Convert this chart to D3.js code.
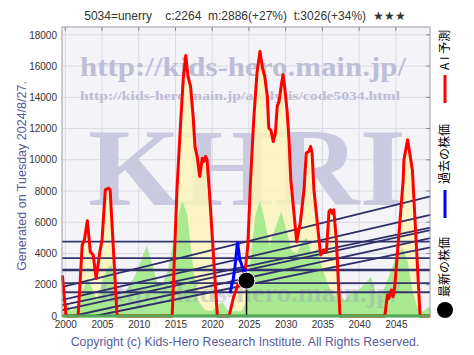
<!DOCTYPE html>
<html><head><meta charset="utf-8">
<script src="https://cdnjs.cloudflare.com/ajax/libs/d3/7.8.5/d3.min.js"></script>
<style>body{margin:0;background:#fff}svg{display:block}</style>
</head><body><svg id="c" width="474" height="355"></svg>
<script>
const title = "5034=unerry    c:2264  m:2886(+27%)  t:3026(+34%)  ★★★";
const xTicks = [2000,2005,2010,2015,2020,2025,2030,2035,2040,2045];
const yTicks = [0,2000,4000,6000,8000,10000,12000,14000,16000,18000];
// AI prediction (red) [year, value]
const aiYears = [1999.6,2000.1,2001.75,2002.3,2002.6,2003.0,2003.4,2003.8,2004.2,2004.7,2005.0,2005.45,2005.9,2006.1,2007.05,2014.55,2015.2,2015.7,2016.05,2016.4,2016.7,2017.05,2017.4,2017.65,2017.95,2018.3,2018.65,2018.85,2019.1,2019.3,2019.6,2020.7,2022.3,2022.9,2023.5,2024.0,2024.5,2024.85,2025.2,2025.65,2026.1,2026.5,2026.85,2027.15,2027.5,2027.7,2028.0,2028.3,2028.6,2028.85,2029.1,2029.45,2029.65,2029.9,2030.2,2030.45,2030.7,2031.5,2032.0,2032.5,2032.8,2033.15,2033.4,2033.6,2033.85,2034.75,2035.2,2035.55,2035.9,2036.1,2036.35,2036.55,2036.9,2037.4,2043.5,2043.85,2044.05,2044.4,2044.6,2044.85,2045.65,2046.0,2046.1,2046.6,2047.25,2048.3,2049.7];
const aiValues = [2600,0,0,4550,4870,6100,4100,3900,2400,4100,4870,8080,8180,8080,0,0,8080,12370,15130,16670,15340,14700,12790,10850,10210,8930,10100,9890,10210,10000,8080,0,0,1200,2000,2500,2950,4500,8500,12560,15580,16940,15870,15340,14060,12030,11880,11170,11710,13420,13740,14920,15450,14490,13100,11280,8720,4760,6000,8080,10430,10530,10850,10430,8080,3910,4230,4120,6690,6800,6580,6800,4870,0,0,1350,1130,1670,1240,1880,6600,8720,10000,11280,9360,0,0];
// past prices (blue)
const pastYears = [2022.45,2022.7,2022.85,2023.1,2023.45,2023.75,2023.95,2024.2,2024.5,2024.67];
const pastValues = [1450,2100,2300,3160,4760,3590,3380,2950,2950,2264];
// latest price
const latestYear = 2024.67, latestValue = 2264;
// green background series
const grYears = [1999.6,2000.3,2000.8,2001.5,2002.3,2003.0,2003.6,2004.3,2005.0,2005.7,2006.3,2006.9,2007.5,2008.5,2009.5,2010.5,2011.1,2011.7,2012.5,2013.2,2014.0,2015.0,2015.9,2016.6,2017.3,2018.0,2019.0,2020.0,2020.8,2021.4,2022.0,2022.5,2024.0,2024.7,2025.3,2025.9,2026.5,2027.2,2027.8,2028.5,2029.4,2030.1,2030.8,2031.5,2032.3,2032.9,2033.5,2034.3,2035.0,2035.8,2036.5,2037.3,2038.0,2039.0,2040.0,2041.0,2041.6,2042.3,2043.0,2044.0,2045.0,2045.9,2046.6,2047.3,2048.0,2048.8,2049.4,2049.7];
const grValues = [300,800,300,600,1500,2400,1800,1000,2200,3000,3300,1500,1200,1800,2600,3800,4500,3500,2200,2000,3000,5500,7400,6500,3500,1000,400,300,700,900,400,300,300,1000,4000,6500,7400,6000,4500,5500,6700,5500,4200,4000,4800,5000,4000,4300,3000,2000,1200,1600,1000,1500,1700,2200,2500,1500,1300,2500,3800,4400,3500,1500,500,300,600,400];
// support/resistance levels
const hLevels = [4760,3700,2950,2100,1520];
// trend lines
const trendStartYears = [1999.6,1999.6,1999.6,1999.6,2001.0,2004.0];
const trendStartValues = [1860,1030,700,380,0,0];
const trendEndYears = [2049.7,2049.7,2049.7,2049.7,2049.7,2049.7];
const trendEndValues = [7650,6470,5660,5490,4980,4400];

const svg = d3.select("#c");
const L=62,R=430,T=27,B=316;
const x = d3.scaleLinear().domain([1999.55,2049.65]).range([L,R]);
const y = d3.scaleLinear().domain([0,18500]).range([B,T]);

svg.append("rect").attr("x",L).attr("y",T).attr("width",R-L).attr("height",B-T).attr("fill","#f4f4f8");
// grid
svg.append("g").selectAll("line").data(xTicks).join("line")
  .attr("x1",d=>x(d)).attr("x2",d=>x(d)).attr("y1",T).attr("y2",B).attr("stroke","#dadae3").attr("stroke-width",1);
svg.append("g").selectAll("line").data(yTicks).join("line")
  .attr("x1",L).attr("x2",R).attr("y1",d=>y(d)).attr("y2",d=>y(d)).attr("stroke","#dadae3").attr("stroke-width",1);

// watermarks
const wm = svg.append("g").attr("font-family","Liberation Serif, serif").attr("font-weight","bold");
wm.append("text").attr("x",88).attr("y",205).attr("font-size",110).attr("fill","#c9c9df").attr("textLength",318).attr("lengthAdjust","spacingAndGlyphs").text("KHRI");
wm.append("text").attr("x",80).attr("y",76).attr("font-size",27).attr("fill","#bdbdd6").attr("textLength",326).attr("lengthAdjust","spacingAndGlyphs").text("http://kids-hero.main.jp/");
wm.append("text").attr("x",80).attr("y",100).attr("font-size",13).attr("fill","#bdbdd6").attr("textLength",320).attr("lengthAdjust","spacingAndGlyphs").text("http://kids-hero.main.jp/analysis/code5034.html");

const ai = aiYears.map((d,i)=>[d,aiValues[i]]);
const gr = grYears.map((d,i)=>[d,grValues[i]]);
const area = d3.area().x(d=>x(d[0])).y0(B).y1(d=>y(d[1]));
svg.append("path").datum(ai).attr("d",area).attr("fill","#faf5b8").attr("opacity",0.85);
svg.append("path").datum(gr).attr("d",area).attr("fill","#a2e88c").attr("opacity",0.92);
svg.append("text").attr("x",100).attr("y",302).attr("font-family","Liberation Serif, serif").attr("font-weight","bold").attr("font-size",28).attr("fill","#9a9ab4").attr("opacity",0.35).attr("textLength",300).attr("lengthAdjust","spacingAndGlyphs").text("http://kids-hero.main.jp/");

// horizontal levels
svg.append("g").selectAll("line").data(hLevels).join("line")
  .attr("x1",L).attr("x2",R).attr("y1",d=>y(d)).attr("y2",d=>y(d))
  .attr("stroke","#33336e").attr("stroke-width",(d,i)=>i==2?2.5:1.8);
// trend lines
svg.append("g").selectAll("line").data(trendStartYears).join("line")
  .attr("x1",(d)=>x(d)).attr("y1",(d,i)=>y(trendStartValues[i]))
  .attr("x2",(d,i)=>x(trendEndYears[i])).attr("y2",(d,i)=>y(trendEndValues[i]))
  .attr("stroke","#2f2f6a").attr("stroke-width",1.8);

const line = d3.line().x(d=>x(d[0])).y(d=>y(d[1]));
svg.append("path").datum(ai).attr("d",line).attr("fill","none").attr("stroke","#ff0000").attr("stroke-width",3).attr("stroke-linejoin","round");
const past = pastYears.map((d,i)=>[d,pastValues[i]]);
svg.append("path").datum(past).attr("d",line).attr("fill","none").attr("stroke","#0000ff").attr("stroke-width",3);
// latest
svg.append("line").attr("x1",x(latestYear)).attr("x2",x(latestYear)).attr("y1",y(latestValue)).attr("y2",B).attr("stroke","#000").attr("stroke-width",1.5);
svg.append("circle").attr("cx",x(latestYear)).attr("cy",y(latestValue)).attr("r",8.5).attr("fill","#000").attr("stroke","#fff").attr("stroke-width",1);

// baseline green
svg.append("line").attr("x1",L).attr("x2",R).attr("y1",B).attr("y2",B).attr("stroke","#22aa22").attr("stroke-width",3);
// frame
svg.append("rect").attr("x",L).attr("y",T).attr("width",R-L).attr("height",B-T).attr("fill","none").attr("stroke","#9a9aa6").attr("stroke-width",1);
svg.append("g").selectAll("line").data(xTicks).join("line").attr("x1",d=>x(d)).attr("x2",d=>x(d)).attr("y1",T).attr("y2",T+4).attr("stroke","#888");
svg.append("g").selectAll("line").data(yTicks).join("line").attr("x1",R-4).attr("x2",R).attr("y1",d=>y(d)).attr("y2",d=>y(d)).attr("stroke","#888");

// axes labels
const xa = d3.axisBottom(x).tickValues(xTicks).tickFormat(d3.format("d")).tickSize(0).tickPadding(5);
svg.append("g").attr("transform",`translate(0,${B})`).call(xa).call(g=>g.select(".domain").remove())
  .selectAll("text").attr("font-family","Liberation Sans, Arial, sans-serif").attr("font-size",10).attr("fill","#333");
const ya = d3.axisLeft(y).tickValues(yTicks).tickFormat(d3.format("d")).tickSize(0).tickPadding(5);
svg.append("g").attr("transform",`translate(${L},0)`).call(ya).call(g=>g.select(".domain").remove())
  .selectAll("text").attr("font-family","Liberation Sans, Arial, sans-serif").attr("font-size",10).attr("fill","#333");

// title
svg.append("text").attr("x",245).attr("y",20).attr("text-anchor","middle").attr("font-family","Liberation Sans, Arial, sans-serif").attr("font-size",12).attr("fill","#333").style("white-space","pre").text(title);
svg.append("text").attr("transform","translate(26,176) rotate(-90)").attr("text-anchor","middle").attr("font-family","Liberation Sans, Arial, sans-serif").attr("font-size",12.5).attr("fill","#5a5a9e").text("Generated on Tuesday 2024/8/27.");
svg.append("text").attr("x",245).attr("y",346).attr("text-anchor","middle").attr("font-family","Liberation Sans, Arial, sans-serif").attr("font-size",12.3).attr("fill","#5a5a9e").text("Copyright (c) Kids-Hero Research Institute. All Rights Reserved.");

// legend
const lg = svg.append("g").attr("font-family","Noto Sans CJK JP, sans-serif").attr("font-size",12).attr("fill","#000");
lg.append("text").attr("transform","translate(449,70) rotate(-90)").attr("text-anchor","start").text("A I 予測");
lg.append("line").attr("x1",445).attr("x2",445).attr("y1",75).attr("y2",103).attr("stroke","#ff0000").attr("stroke-width",3);
lg.append("text").attr("transform","translate(449,184) rotate(-90)").attr("text-anchor","start").text("過去の株価");
lg.append("line").attr("x1",445).attr("x2",445).attr("y1",190).attr("y2",218).attr("stroke","#0000ff").attr("stroke-width",3);
lg.append("text").attr("transform","translate(449,297) rotate(-90)").attr("text-anchor","start").text("最新の株価");
lg.append("circle").attr("cx",445).attr("cy",310).attr("r",8).attr("fill","#000");
</script></body></html>
